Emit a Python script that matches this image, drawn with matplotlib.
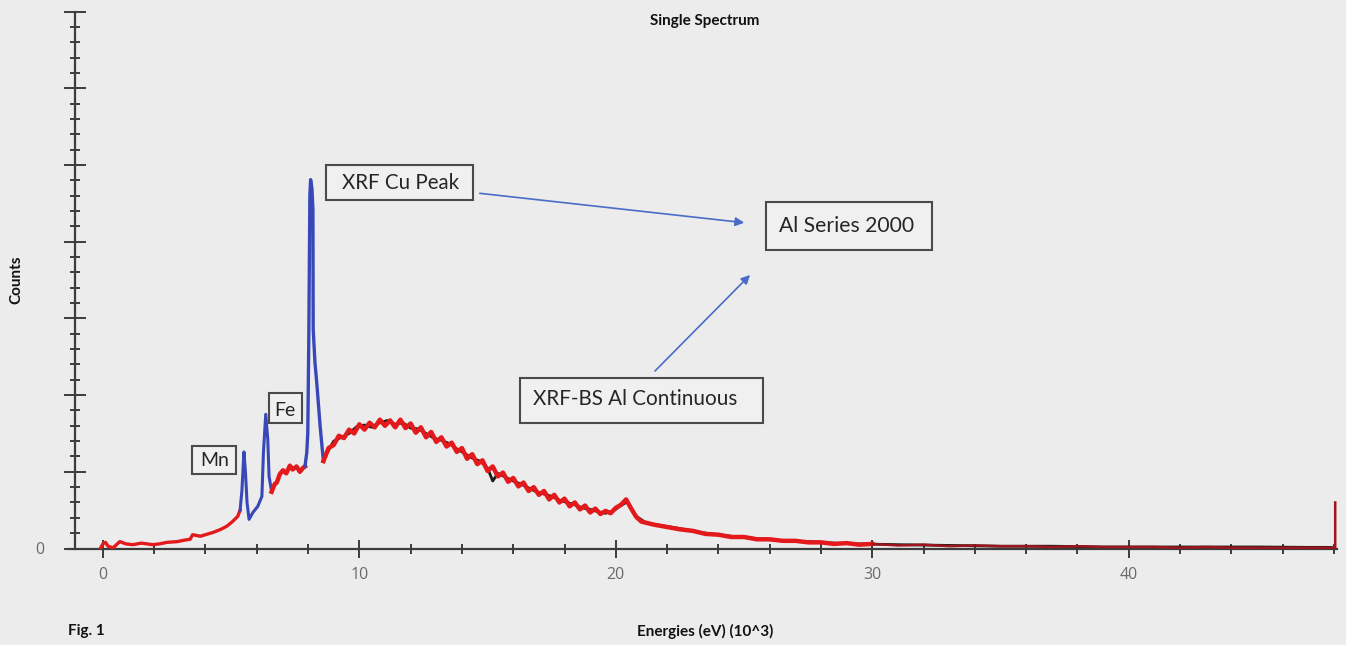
import matplotlib
matplotlib.use("Agg")
import matplotlib.pyplot as plt
from matplotlib.patches import Rectangle, FancyArrowPatch
from matplotlib.ticker import MultipleLocator, FixedLocator

# ---------------- data (energy in keV, counts in arbitrary major-tick units) ----------------
energy_low = [-0.1, 0.0, 0.1, 0.2, 0.4, 0.66, 0.9, 1.17, 1.5, 1.95, 2.2, 2.5, 2.9, 3.2, 3.4, 3.5,
              3.8, 4.0, 4.3, 4.6, 4.83, 5.05, 5.26, 5.35]
counts_low = [0.0, 0.06, 0.08, 0.03, 0.01, 0.09, 0.06, 0.05, 0.07, 0.05, 0.06, 0.08, 0.09, 0.11,
              0.12, 0.18, 0.16, 0.18, 0.21, 0.25, 0.29, 0.35, 0.42, 0.50]

energy_mn_fe = [5.35, 5.42, 5.5, 5.56, 5.62, 5.7, 5.85, 6.04, 6.2, 6.26, 6.35, 6.43, 6.48, 6.58]
counts_mn_fe = [0.50, 0.75, 1.26, 0.99, 0.60, 0.38, 0.47, 0.55, 0.68, 1.25, 1.75, 1.42, 0.94, 0.74]

energy_mid = [6.58, 6.7, 6.78, 6.9, 7.02, 7.15, 7.29, 7.4, 7.55, 7.68, 7.8, 7.88]
counts_mid = [0.74, 0.84, 0.86, 0.97, 1.02, 0.98, 1.08, 1.03, 1.07, 1.00, 1.05, 1.07]

energy_cu = [7.88, 7.95, 7.99, 8.03, 8.07, 8.1, 8.15, 8.19, 8.2, 8.27, 8.33, 8.4, 8.47, 8.53, 8.6]
counts_cu = [1.07, 1.25, 1.51, 2.77, 4.6, 4.81, 4.7, 4.42, 2.86, 2.42, 2.2, 1.9, 1.6, 1.38, 1.14]

energy_cont = [8.6, 8.8, 9.0, 9.2, 9.4, 9.6, 9.8, 10.0, 10.2, 10.4, 10.6, 10.8, 11.0, 11.2, 11.4,
               11.6, 11.8, 12.0, 12.2, 12.4, 12.6, 12.8, 13.0, 13.2, 13.4, 13.6, 13.8, 14.0, 14.2,
               14.4, 14.6, 14.8, 15.0, 15.2, 15.4, 15.6, 15.8, 16.0, 16.2, 16.4, 16.6, 16.8, 17.0,
               17.2, 17.4, 17.6, 17.8, 18.0, 18.2, 18.4, 18.6, 18.8, 19.0, 19.2, 19.4, 19.6, 19.8,
               20.0, 20.2, 20.4, 20.6, 20.8, 21.0, 21.5, 22.0, 22.5, 23.0, 23.5, 24.0, 24.5, 25.0,
               25.5, 26.0, 26.5, 27.0, 27.5, 28.0, 28.5, 29.0, 29.5, 30.0, 31.0, 32.0, 33.0, 34.0,
               35.0, 36.0, 37.0, 38.0, 39.0, 40.0, 41.0, 42.0, 43.0, 44.0, 45.0, 46.0, 47.0, 47.9,
               48.05, 48.05]
counts_cont = [1.14, 1.31, 1.35, 1.47, 1.44, 1.55, 1.50, 1.62, 1.55, 1.64, 1.58, 1.68, 1.60, 1.67,
               1.58, 1.68, 1.57, 1.63, 1.51, 1.58, 1.45, 1.52, 1.39, 1.45, 1.33, 1.38, 1.26, 1.31,
               1.17, 1.23, 1.10, 1.15, 1.01, 1.07, 0.94, 0.99, 0.87, 0.92, 0.81, 0.86, 0.75, 0.80,
               0.70, 0.75, 0.64, 0.70, 0.60, 0.65, 0.55, 0.60, 0.51, 0.56, 0.47, 0.52, 0.45, 0.49,
               0.46, 0.53, 0.57, 0.64, 0.52, 0.41, 0.35, 0.31, 0.28, 0.25, 0.23, 0.19, 0.18, 0.15,
               0.15, 0.12, 0.12, 0.10, 0.10, 0.08, 0.08, 0.06, 0.07, 0.05, 0.06, 0.04, 0.05, 0.03,
               0.04, 0.03, 0.03, 0.02, 0.03, 0.02, 0.02, 0.02, 0.01, 0.02, 0.01, 0.01, 0.01, 0.01,
               0.01, 0.01, 0.60]

energy_bg = [8.7, 9.0, 9.3, 9.6, 9.9, 10.2, 10.5, 10.8, 11.1, 11.4, 11.7, 12.0, 12.3, 12.6, 12.9,
             13.2, 13.5, 13.8, 14.1, 14.4, 14.7, 15.0, 15.2, 15.4, 15.7, 16.0, 16.3, 16.6, 16.9,
             17.2, 17.5, 17.8, 18.1, 18.4, 18.7, 19.0, 19.3, 19.6, 19.9, 20.2, 20.45, 20.8, 21.2,
             22.5, 23.5, 24.5, 25.5, 26.5, 27.5, 28.5, 29.5, 31.0, 33.0, 35.0, 37.0, 39.0, 41.0,
             43.0, 45.0, 47.0, 47.9]
counts_bg = [1.22, 1.40, 1.45, 1.50, 1.59, 1.61, 1.58, 1.64, 1.67, 1.62, 1.64, 1.57, 1.56, 1.50,
             1.44, 1.41, 1.37, 1.30, 1.24, 1.18, 1.14, 1.05, 0.88, 0.98, 0.93, 0.88, 0.84, 0.79,
             0.74, 0.71, 0.68, 0.63, 0.60, 0.57, 0.53, 0.51, 0.48, 0.46, 0.49, 0.56, 0.61, 0.42,
             0.33, 0.26, 0.20, 0.16, 0.13, 0.10, 0.09, 0.07, 0.06, 0.05, 0.04, 0.03, 0.03, 0.02,
             0.02, 0.02, 0.02, 0.015, 0.015]

x_major_ticks = [0, 10, 20, 30, 40]
x_tick_labels = ["0", "10", "20", "30", "40"]
y_major_ticks = [0, 1, 2, 3, 4, 5, 6, 7]
y_tick_labels = ["0", "", "", "", "", "", "", ""]

title_text = "Single Spectrum"
x_label = "Energies (eV) (10^3)"
y_label = "Counts"
fig_label = "Fig. 1"
box_labels = ["Mn", "Fe", "XRF Cu Peak", "Al Series 2000", "XRF-BS Al Continuous"]

# ---------------- figure ----------------
W, H = 1346, 645
BG = "#ececec"
fig = plt.figure(figsize=(W / 100, H / 100), dpi=100, facecolor=BG)

def fx(px):
    return px / W

def fy(py):
    return 1 - py / H

ax_left, ax_right, ax_top, ax_bottom = 68, 1337, 11.7, 548.5
ax = fig.add_axes([fx(ax_left), fy(ax_bottom), fx(ax_right - ax_left), (ax_bottom - ax_top) / H])
ax.set_facecolor(BG)
ax.set_xlim(-1.36, 48.12)
ax.set_ylim(0, 7)

RED = "#e3191c"
BLUE = "#3848b8"
DARK = "#1c1c1c"

ax.plot(energy_bg, counts_bg, color=DARK, lw=2.0, zorder=2)
ax.plot(energy_low, counts_low, color=RED, lw=2.4, zorder=3)
ax.plot(energy_mn_fe, counts_mn_fe, color=BLUE, lw=2.2, zorder=3)
ax.plot(energy_mid, counts_mid, color=RED, lw=3.2, zorder=3)
ax.plot(energy_cu, counts_cu, color=BLUE, lw=2.4, zorder=3)
ax.plot(energy_cont[:81], counts_cont[:81], color=RED, lw=3.2, zorder=3)
ax.plot(energy_cont[80:], counts_cont[80:], color="#a0141c", lw=1.8, zorder=3)

# spines
for s in ["top", "right"]:
    ax.spines[s].set_visible(False)
ax.spines["left"].set_position(("data", -1.087))
for s in ["left", "bottom"]:
    ax.spines[s].set_color("#3c3c3c")
    ax.spines[s].set_linewidth(1.6)

ax.xaxis.set_major_locator(FixedLocator(x_major_ticks))
ax.set_xticklabels(x_tick_labels)
ax.xaxis.set_minor_locator(MultipleLocator(2))
ax.yaxis.set_major_locator(FixedLocator(y_major_ticks))
ax.set_yticklabels(y_tick_labels)
ax.yaxis.set_minor_locator(MultipleLocator(0.2))

ax.tick_params(axis="x", which="major", direction="inout", length=13, width=1.4,
               color="#3c3c3c", pad=7, labelsize=11.5, labelcolor="#6a6a6a")
ax.tick_params(axis="x", which="minor", direction="inout", length=7, width=1.4, color="#3c3c3c")
ax.tick_params(axis="y", which="major", direction="inout", length=16, width=1.4,
               color="#3c3c3c", pad=14, labelsize=11.5, labelcolor="#6a6a6a")
ax.tick_params(axis="y", which="minor", direction="inout", length=7, width=1.4, color="#3c3c3c")
for lab in ax.get_xticklabels() + ax.get_yticklabels():
    lab.set_family("Open Sans")

# ---------------- texts ----------------
bold = dict(family="Lato", weight="bold", color="#111111")
fig.text(fx(705), fy(21), title_text, ha="center", va="center", fontsize=11, **bold)
fig.text(fx(705), fy(631), x_label, ha="center", va="center", fontsize=11, **bold)
fig.text(fx(68), fy(631), fig_label, ha="left", va="center", fontsize=11, **bold)
fig.text(fx(16), fy(280), y_label, ha="center", va="center", rotation=90, fontsize=11, **bold)

# annotation boxes: (x0, y0, x1, y1) pixel, text centre, fontsize
boxes = [
    ((192, 446, 236, 474), (215, 460), 14),
    ((269, 393, 302, 423), (284.5, 410), 14),
    ((326, 165, 473, 200), (401, 182.5), 14.8),
    ((766, 202, 932, 250), (847, 225.5), 15.2),
    ((520, 378, 763, 423), (635, 399), 14.9),
]
for label, ((x0, y0, x1, y1), (tx, ty), fs) in zip(box_labels, boxes):
    r = Rectangle((fx(x0), fy(y1)), fx(x1 - x0), (y1 - y0) / H, transform=fig.transFigure,
                  facecolor="#f0f0f0", edgecolor="#4a4a4a", lw=1.5, zorder=5)
    fig.add_artist(r)
    fig.text(fx(tx), fy(ty), label, ha="center", va="center", fontsize=fs, family="Lato",
             color="#262626", zorder=6)

arrows = [((477, 193), (747, 223)), ((653, 373), (752, 273))]
for (sx, sy), (ex, ey) in arrows:
    fig.add_artist(FancyArrowPatch(
        (fx(sx), fy(sy)), (fx(ex), fy(ey)), transform=fig.transFigure,
        arrowstyle="-|>", mutation_scale=13, color="#4a6bc6", lw=1.2, zorder=6))

fig.savefig("out.png", dpi=100, facecolor=BG)
